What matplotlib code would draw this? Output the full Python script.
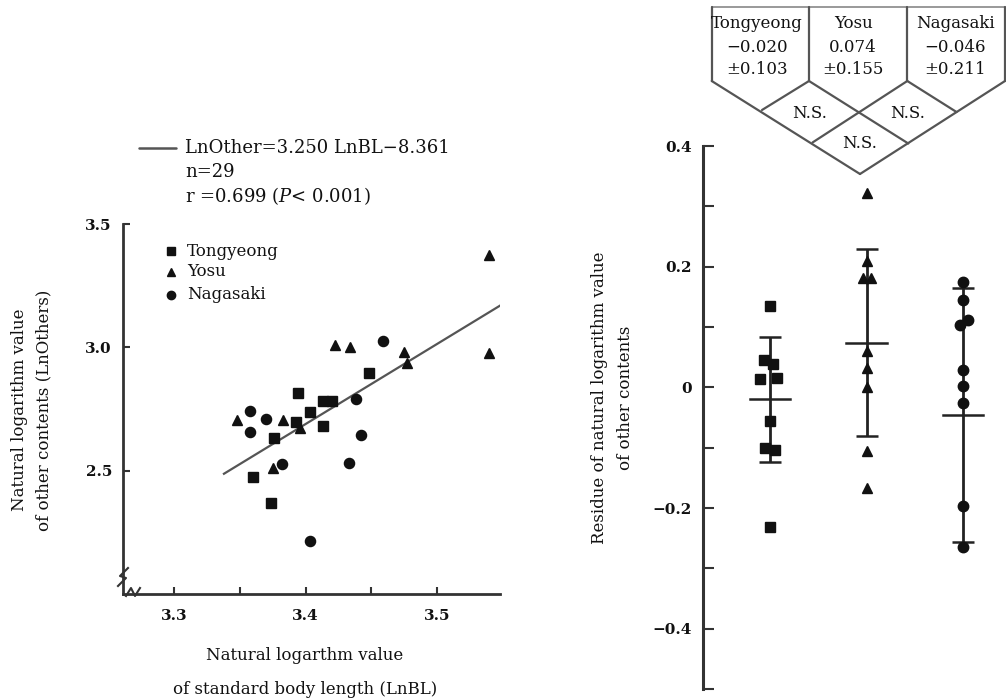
import matplotlib
matplotlib.use('Agg')
import matplotlib.pyplot as plt
from matplotlib.lines import Line2D
from matplotlib.ticker import FixedLocator

plt.rcParams['font.family'] = ['DejaVu Serif']
plt.rcParams['mathtext.fontset'] = 'dejavuserif'

# ---------------- data ----------------
groups = ['Tongyeong', 'Yosu', 'Nagasaki']

tong_x = [3.394, 3.448, 3.413, 3.420, 3.403, 3.393, 3.413, 3.376, 3.360, 3.374]
tong_y = [2.815, 2.896, 2.783, 2.783, 2.738, 2.697, 2.681, 2.633, 2.474, 2.369]
yosu_x = [3.539, 3.539, 3.422, 3.434, 3.475, 3.477, 3.348, 3.383, 3.396, 3.375]
yosu_y = [3.374, 2.977, 3.010, 3.001, 2.981, 2.937, 2.706, 2.706, 2.673, 2.511]
naga_x = [3.459, 3.358, 3.370, 3.358, 3.438, 3.442, 3.433, 3.382, 3.403]
naga_y = [3.026, 2.742, 2.710, 2.657, 2.791, 2.645, 2.531, 2.527, 2.215]

reg_slope = 3.250
reg_intercept = -8.361
reg_x = [3.338, 3.549]

tong_res = [0.134, 0.046, 0.039, 0.014, 0.016, -0.055, -0.100, -0.104, -0.232]
yosu_res = [0.322, 0.209, 0.181, 0.181, 0.060, 0.032, 0.0, -0.106, -0.167]
naga_res = [0.175, 0.145, 0.112, 0.104, 0.029, 0.002, -0.026, -0.197, -0.265]

res_means = [-0.020, 0.074, -0.046]
res_sds = [0.103, 0.155, 0.211]
mean_labels = ['\u22120.020', '0.074', '\u22120.046']
sd_labels = ['\u00b10.103', '\u00b10.155', '\u00b10.211']

# small horizontal jitter (pixels) of residual points
tong_dx = [0, -6, 3, -10, 7, 0, -5, 5, 0]
yosu_dx = [0, 0, -4, 4, 0, 0, 0, 0, 0]
naga_dx = [0, 0, 5, -3, 0, 0, 0, 0, 0]

# ---------------- figure ----------------
W, H = 1006, 698
fig = plt.figure(figsize=(W / 100, H / 100), dpi=100)
INK = '#111111'


def fx(x):
    return x / W


def fy(y):
    return 1 - y / H


def fline(xs, ys, lw=1.6, color='#555555'):
    fig.add_artist(Line2D([fx(v) for v in xs], [fy(v) for v in ys],
                          transform=fig.transFigure, color=color, lw=lw,
                          solid_capstyle='round'))


# ---------------- left panel ----------------
ax1 = fig.add_axes([fx(123), fy(594), (500 - 123) / W, (594 - 224) / H])
ax1.set_xlim(3.2613, 3.5477)
ax1.set_ylim(2.0, 3.5)
for s in ['top', 'right']:
    ax1.spines[s].set_visible(False)
for s in ['left', 'bottom']:
    ax1.spines[s].set_linewidth(2.0)
    ax1.spines[s].set_color('#333333')
ax1.set_xticks([3.3, 3.4, 3.5])
ax1.set_xticklabels(['3.3', '3.4', '3.5'])
ax1.xaxis.set_minor_locator(FixedLocator([3.35, 3.45]))
ax1.set_yticks([2.5, 3.0, 3.5])
ax1.set_yticklabels(['2.5', '3.0', '3.5'])
ax1.tick_params(axis='both', which='both', direction='in', length=5, width=1.5,
                color='#333333', labelsize=11, labelcolor=INK)
ax1.tick_params(axis='x', pad=11)
ax1.tick_params(axis='y', pad=8)
for lab in ax1.get_xticklabels() + ax1.get_yticklabels():
    lab.set_fontweight('bold')

rx = reg_x
ry = [reg_slope * v + reg_intercept for v in reg_x]
ax1.plot(rx, ry, color='#555555', lw=1.6, zorder=2)

ms = 6.8
ax1.plot(tong_x, tong_y, 's', color=INK, ms=ms, ls='none', zorder=3)
ax1.plot(yosu_x, yosu_y, '^', color=INK, ms=ms + 0.5, ls='none', zorder=3)
ax1.plot(naga_x, naga_y, 'o', color=INK, ms=ms + 0.5, ls='none', zorder=3)

# axis-break squiggles
fig.add_artist(Line2D([fx(118), fx(126), fx(120), fx(128)],
                      [fy(586), fy(578), fy(576), fy(568)],
                      transform=fig.transFigure, color='#333333', lw=1.5))
fig.add_artist(Line2D([fx(126), fx(131), fx(135), fx(140)],
                      [fy(596), fy(588), fy(596), fy(588)],
                      transform=fig.transFigure, color='#333333', lw=1.5))

# group legend inside the left panel
leg_y = [251, 272, 295]
leg_m = ['s', '^', 'o']
for gy, mk, name in zip(leg_y, leg_m, groups):
    fig.add_artist(Line2D([fx(171)], [fy(gy)], marker=mk, color=INK, ms=6,
                          ls='none', transform=fig.transFigure))
    fig.text(fx(187), fy(gy), name, fontsize=12, color=INK,
             ha='left', va='center')

# regression legend above
fline([139, 176], [148, 148], lw=1.8)
fig.text(fx(185), fy(148), 'LnOther=3.250 LnBL\u22128.361', fontsize=13,
         color=INK, ha='left', va='center')
fig.text(fx(185), fy(172), 'n=29', fontsize=13, color=INK,
         ha='left', va='center')
fig.text(fx(185), fy(196), r'r =0.699 ($\mathit{P}$< 0.001)', fontsize=13,
         color=INK, ha='left', va='center')

# axis labels
fig.text(fx(20), fy(410), 'Natural logarithm value', rotation=90,
         fontsize=12, color=INK, ha='center', va='center')
fig.text(fx(44), fy(410), 'of other contents (LnOthers)', rotation=90,
         fontsize=12, color=INK, ha='center', va='center')
fig.text(fx(305), fy(656), 'Natural logarthm value', fontsize=12,
         color=INK, ha='center', va='center')
fig.text(fx(305), fy(689), 'of standard body length (LnBL)', fontsize=12,
         color=INK, ha='center', va='center')

# ---------------- right panel ----------------
ax2 = fig.add_axes([fx(703), fy(689), (1000 - 703) / W, (689 - 146) / H])
ax2.set_xlim(0.3057, 3.383)
ax2.set_ylim(-0.5, 0.4)
for s in ['top', 'right', 'bottom']:
    ax2.spines[s].set_visible(False)
ax2.spines['left'].set_linewidth(2.2)
ax2.spines['left'].set_color('#333333')
ax2.set_xticks([])
ax2.set_yticks([0.4, 0.2, 0.0, -0.2, -0.4])
ax2.set_yticklabels(['0.4', '0.2', '0', '\u22120.2', '\u22120.4'])
ax2.yaxis.set_minor_locator(FixedLocator([0.3, 0.1, -0.1, -0.3, -0.5]))
ax2.tick_params(axis='y', which='both', direction='in', length=8, width=1.5,
                color='#333333', labelsize=11, labelcolor=INK, pad=8)
for lab in ax2.get_yticklabels():
    lab.set_fontweight('bold')

px_per_unit = 96.5
positions = [1, 2, 3]
res_all = [tong_res, yosu_res, naga_res]
dx_all = [tong_dx, yosu_dx, naga_dx]
for pos, vals, dxs, mk in zip(positions, res_all, dx_all, leg_m):
    xs = [pos + d / px_per_unit for d in dxs]
    ax2.plot(xs, vals, mk, color=INK, ms=7.5, ls='none', zorder=3)

for pos, m, sd in zip(positions, res_means, res_sds):
    ax2.errorbar([pos], [m], yerr=[sd], fmt='none', ecolor='#222222',
                 elinewidth=2.0, capsize=8, capthick=1.8, zorder=2)
    ax2.plot([pos - 0.21, pos + 0.21], [m, m], color='#222222', lw=1.8,
             zorder=2)

fig.text(fx(600), fy(398), 'Residue of natural logarithm value', rotation=90,
         fontsize=12, color=INK, ha='center', va='center')
fig.text(fx(626), fy(398), 'of other contents', rotation=90,
         fontsize=12, color=INK, ha='center', va='center')

# ---------------- comparison diagram (top right) ----------------
dc = '#555555'
fline([711.7, 1005], [7, 7], lw=1.2, color='#888888')
for xv in [711.7, 809, 907.3, 1005]:
    fline([xv, xv], [7, 81], lw=1.6, color=dc)
fline([711.7, 860], [81, 174], color=dc)
fline([1005, 860], [81, 174], color=dc)
fline([809, 908.3], [81, 143.5], color=dc)
fline([907.3, 812.5], [81, 142.5], color=dc)
fline([809, 762], [81, 110], color=dc)
fline([907.3, 956.5], [81, 112], color=dc)

box_x = [757, 853, 955]
for bx, name, ml, sl in zip(box_x, groups, mean_labels, sd_labels):
    fig.text(fx(bx), fy(24), name, fontsize=12, color=INK, ha='center',
             va='center')
    fig.text(fx(bx), fy(47), ml, fontsize=12, color=INK, ha='center',
             va='center')
    fig.text(fx(bx), fy(70), sl, fontsize=12, color=INK, ha='center',
             va='center')
for (tx, ty) in [(810, 113), (908, 113), (860, 144)]:
    fig.text(fx(tx), fy(ty), 'N.S.', fontsize=12, color=INK, ha='center',
             va='center')

fig.savefig('out.png', dpi=100)
